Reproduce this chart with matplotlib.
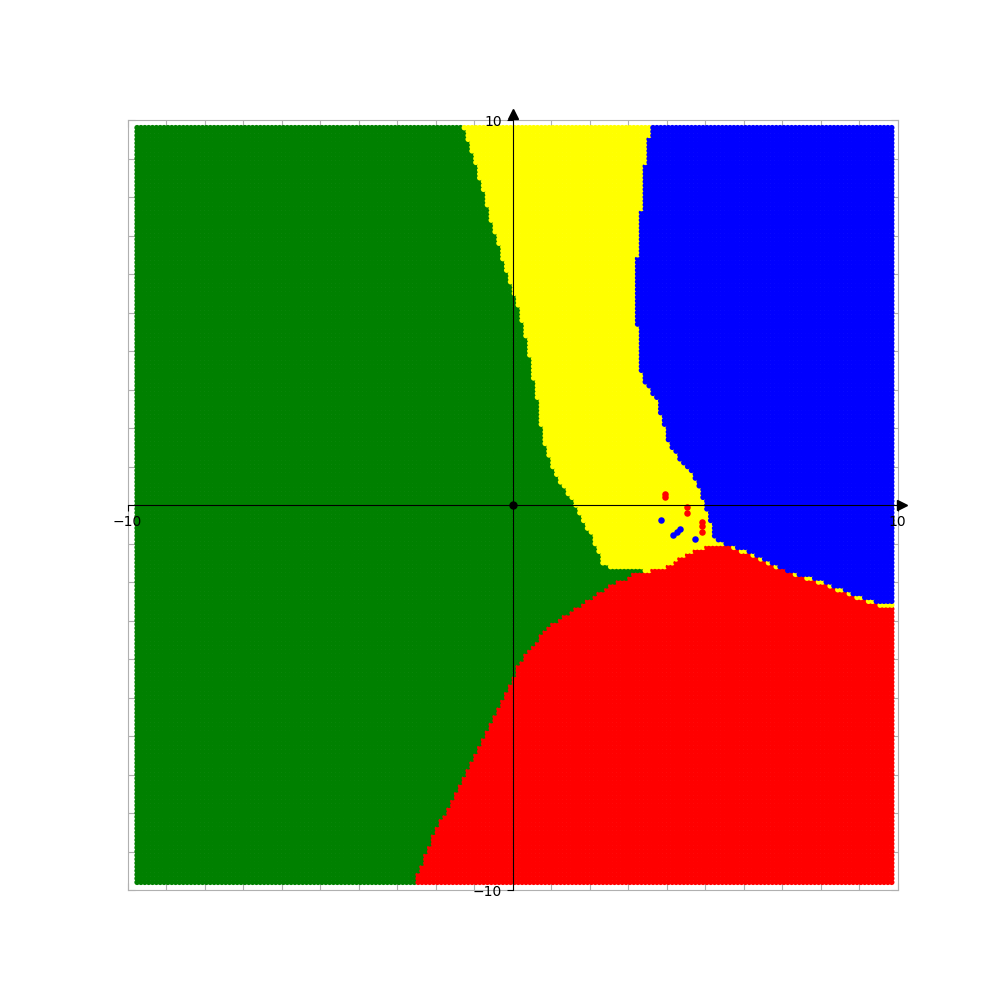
import numpy as np
import matplotlib
matplotlib.use('Agg')
import matplotlib.pyplot as plt
from matplotlib.path import Path

# Fronteras entre regiones (x, y)
verde_amarillo_x = [-1.29, -1.29, -0.92, -0.66, -0.40, -0.19, 0.01, 0.19, 0.41, 0.54, 0.67,
                    0.76, 0.89, 1.15, 1.49, 1.67, 1.93, 2.19, 2.32, 2.50, 3.00, 3.30]
verde_amarillo_y = [10.5, 9.82, 8.78, 7.74, 6.88, 6.18, 5.51, 5.06, 4.03, 3.33, 2.64,
                    1.95, 1.34, 0.74, 0.22, -0.13, -0.56, -1.08, -1.51, -1.62, -1.66, -1.68]

azul_x = [3.62, 3.62, 3.49, 3.40, 3.31, 3.23, 3.23, 3.27, 3.36, 3.57, 3.79, 3.92, 4.09,
          4.35, 4.61, 4.78, 4.91, 5.00, 5.13, 5.22, 5.27, 5.60, 6.00, 6.55, 7.12, 7.90,
          8.59, 9.37, 10.5]
azul_y = [10.5, 9.84, 9.31, 8.27, 7.23, 6.19, 5.06, 4.20, 3.33, 2.99, 2.64, 2.12, 1.51,
          1.17, 0.91, 0.65, 0.30, 0.00, -0.39, -0.74, -0.94, -1.02, -1.15, -1.45, -1.70, -1.94,
          -2.21, -2.49, -2.72]

rojo_x = [-2.51, -2.49, -2.23, -1.97, -1.62, -1.28, -0.93, -0.58, -0.32, -0.02, 0.19,
          0.54, 0.89, 1.41, 1.84, 2.10, 2.36, 2.62, 2.88, 3.13, 3.57, 4.00, 4.44, 4.78,
          5.21, 5.60, 6.00, 6.60, 7.47, 8.33, 9.20, 10.5]
rojo_y = [-10.5, -9.61, -9.05, -8.36, -7.84, -7.14, -6.45, -5.67, -5.15, -4.55, -4.11,
          -3.64, -3.20, -2.86, -2.55, -2.42, -2.21, -2.03, -1.95, -1.78, -1.71, -1.60,
          -1.34, -1.17, -1.00, -1.07, -1.22, -1.51, -1.86, -2.16, -2.51, -2.85]

# puntos de datos
puntos_rojos_x = [3.95, 3.95, 4.52, 4.52, 4.93, 4.93, 4.93]
puntos_rojos_y = [0.29, 0.20, -0.05, -0.20, -0.45, -0.55, -0.70]
puntos_azules_x = [3.87, 4.17, 4.27, 4.36, 4.75]
puntos_azules_y = [-0.40, -0.79, -0.70, -0.62, -0.89]

xs = np.round(np.arange(-9.75, 9.86, 0.1), 2)
ys = np.round(np.arange(-9.8, 9.81, 0.1), 2)
X, Y = np.meshgrid(xs, ys)
pts = np.column_stack([X.ravel(), Y.ravel()])

amarillo = list(zip(verde_amarillo_x, verde_amarillo_y)) + [(10.5, -3.0), (10.5, 10.5)]
azul = list(zip(azul_x, azul_y)) + [(10.5, 10.5)]
rojo = list(zip(rojo_x, rojo_y)) + [(10.5, -10.5)]

colores = np.full(len(pts), 'green', dtype=object)
for poli, col in [(amarillo, 'yellow'), (rojo, 'red'), (azul, 'blue')]:
    colores[Path(poli).contains_points(pts)] = col

fig = plt.figure(figsize=(10, 10), dpi=100)
rect = [0.1275, 0.11, 0.77, 0.77]
ax = fig.add_axes(rect)
ax.scatter(pts[:, 0], pts[:, 1], c=list(colores), s=16, marker='o', linewidths=0)
ax.scatter(puntos_rojos_x, puntos_rojos_y, c='red', s=22, linewidths=0, zorder=3)
ax.scatter(puntos_azules_x, puntos_azules_y, c='blue', s=22, linewidths=0, zorder=3)
ax.set_xlim(-10, 10)
ax.set_ylim(-10, 10)
ax.set_xticks(range(-10, 11))
ax.set_yticks(range(-10, 11))
ax.set_axisbelow(True)
ax.tick_params(direction='in', length=5, color='#b0b0b0', top=True, right=True,
               labelbottom=False, labelleft=False)
for s in ax.spines.values():
    s.set_color('#b0b0b0')

# ejes negros centrados
ax2 = fig.add_axes(rect)
ax2.patch.set_visible(False)
ax2.set_xlim(-10, 10)
ax2.set_ylim(-10, 10)
ax2.spines['left'].set_position(('data', 0))
ax2.spines['bottom'].set_position(('data', 0))
ax2.spines['top'].set_visible(False)
ax2.spines['right'].set_visible(False)
ax2.set_xticks([-10, 10])
ax2.set_yticks([-10, 10])
ax2.tick_params(length=4, labelsize=10)
ax2.plot(1.006, 0, '>k', ms=7, transform=ax2.get_yaxis_transform(), clip_on=False)
ax2.plot(0, 1.008, '^k', ms=7, transform=ax2.get_xaxis_transform(), clip_on=False)
ax2.plot(0, 0, 'ok', ms=5, zorder=5)

plt.savefig('out.png')
